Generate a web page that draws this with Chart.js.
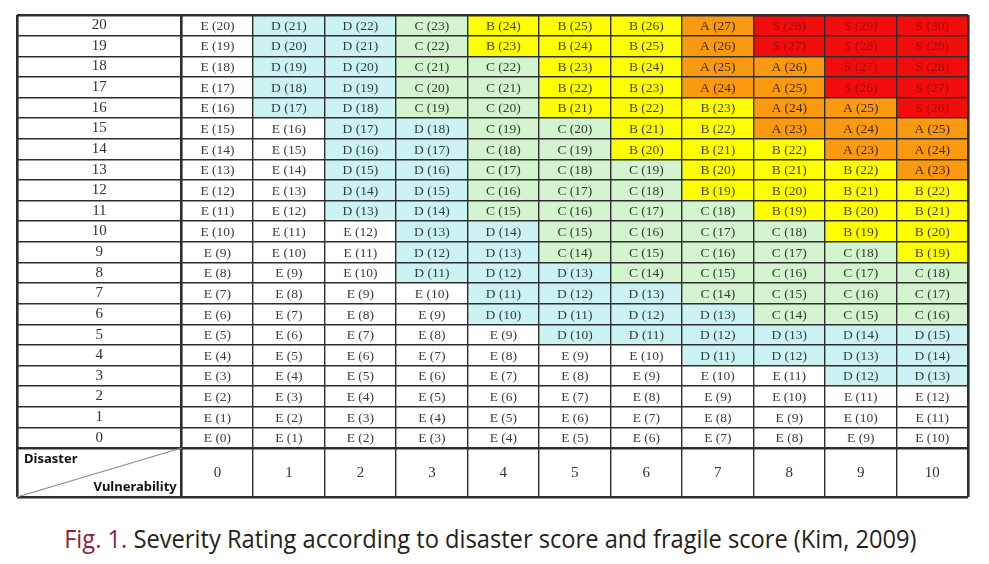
<!DOCTYPE html>
<html>
<head>
<meta charset="utf-8">
<script src="https://cdn.jsdelivr.net/npm/chart.js@4.4.1/dist/chart.umd.min.js"></script>
<style>
    body { margin: 0; background: #fff; width: 989px; height: 564px; overflow: hidden; position: relative; }
    #wrap { position: absolute; left: 0; top: 0; width: 989px; height: 505px; }
    #caption { position: absolute; left: 0; top: 520px; width: 980px; text-align: center; white-space: nowrap;
               font-family: 'Open Sans', sans-serif; font-size: 26px; color: #231f20; }
    #caption .inner { display: inline-block; transform: scaleX(0.91); transform-origin: center; }
    #caption .fig { color: #8e1f43; }
</style>
</head>
<body>
<div id="wrap"><canvas id="severityChart"></canvas></div>
<div id="caption"><span class="inner"><span class="fig">Fig. 1.</span> Severity Rating according to disaster score and fragile score (Kim, 2009)</span></div>

<script>
// Disaster score = rows (0 at the bottom), vulnerability score = columns
const disasterScores = [0, 1, 2, 3, 4, 5, 6, 7, 8, 9, 10, 11, 12, 13, 14, 15, 16, 17, 18, 19, 20];
const vulnerabilityScores = [0, 1, 2, 3, 4, 5, 6, 7, 8, 9, 10];

// Grade letter of each cell, one string per disaster score
const gradeRows = [
    'EEEEEEEEEEE', // 0
    'EEEEEEEEEEE', // 1
    'EEEEEEEEEEE', // 2
    'EEEEEEEEEDD', // 3
    'EEEEEEEDDDD', // 4
    'EEEEEDDDDDD', // 5
    'EEEEDDDDCCC', // 6
    'EEEEDDDCCCC', // 7
    'EEEDDDCCCCC', // 8
    'EEEDDCCCCCB', // 9
    'EEEDDCCCCBB', // 10
    'EEDDCCCCBBB', // 11
    'EEDDCCCBBBB', // 12
    'EEDDCCCBBBA', // 13
    'EEDDCCBBBAA', // 14
    'EEDDCCBBAAA', // 15
    'EDDCCBBBAAS', // 16
    'EDDCCBBAASS', // 17
    'EDDCCBBAASS', // 18
    'EDDCBBBASSS', // 19
    'EDDCBBBASSS'  // 20
];

// Score shown in brackets in each cell
const cellScores = [
    [0, 1, 2, 3, 4, 5, 6, 7, 8, 9, 10],
    [1, 2, 3, 4, 5, 6, 7, 8, 9, 10, 11],
    [2, 3, 4, 5, 6, 7, 8, 9, 10, 11, 12],
    [3, 4, 5, 6, 7, 8, 9, 10, 11, 12, 13],
    [4, 5, 6, 7, 8, 9, 10, 11, 12, 13, 14],
    [5, 6, 7, 8, 9, 10, 11, 12, 13, 14, 15],
    [6, 7, 8, 9, 10, 11, 12, 13, 14, 15, 16],
    [7, 8, 9, 10, 11, 12, 13, 14, 15, 16, 17],
    [8, 9, 10, 11, 12, 13, 14, 15, 16, 17, 18],
    [9, 10, 11, 12, 13, 14, 15, 16, 17, 18, 19],
    [10, 11, 12, 13, 14, 15, 16, 17, 18, 19, 20],
    [11, 12, 13, 14, 15, 16, 17, 18, 19, 20, 21],
    [12, 13, 14, 15, 16, 17, 18, 19, 20, 21, 22],
    [13, 14, 15, 16, 17, 18, 19, 20, 21, 22, 23],
    [14, 15, 16, 17, 18, 19, 20, 21, 22, 23, 24],
    [15, 16, 17, 18, 19, 20, 21, 22, 23, 24, 25],
    [16, 17, 18, 19, 20, 21, 22, 23, 24, 25, 26],
    [17, 18, 19, 20, 21, 22, 23, 24, 25, 26, 27],
    [18, 19, 20, 21, 22, 23, 24, 25, 26, 27, 28],
    [19, 20, 21, 22, 23, 24, 25, 26, 27, 28, 29],
    [20, 21, 22, 23, 24, 25, 26, 27, 28, 29, 30]
];

const gradeFill = { E: '#ffffff', D: '#cbf3f3', C: '#d3f4cf', B: '#ffff00', A: '#fb9a10', S: '#f20d0d' };
const gradeText = { E: '#3c3c3c', D: '#2f3d3d', C: '#2f3d2f', B: '#45400a', A: '#3f2606', S: '#a00a0a' };

// Extra room for the label column (left) and the header row (bottom), in cell units
const X_MIN = -2.804;
const Y_MIN = -2.878;
const X_MAX = vulnerabilityScores[vulnerabilityScores.length - 1] + 0.5;
const Y_MAX = disasterScores[disasterScores.length - 1] + 0.5;

const serif = '"Liberation Serif", "DejaVu Serif", serif';

// One dataset per disaster row, each cell a floating bar
const datasets = disasterScores.map((d, r) => ({
    label: 'Disaster ' + d,
    data: vulnerabilityScores.map(v => ({ x: v, y: [d - 0.5, d + 0.5] })),
    backgroundColor: gradeRows[r].split('').map(g => gradeFill[g]),
    borderWidth: 0,
    barPercentage: 1,
    categoryPercentage: 1,
    grouped: false
}));

// Draws the cell texts, row labels, header row and the diagonal corner cell
const tableTextPlugin = {
    id: 'tableText',
    afterDraw(chart) {
        const { ctx, chartArea } = chart;
        const xs = chart.scales.x;
        const ys = chart.scales.y;
        ctx.save();
        ctx.textAlign = 'center';
        ctx.textBaseline = 'middle';

        // cell labels
        chart.data.datasets.forEach((ds, r) => {
            const meta = chart.getDatasetMeta(r);
            meta.data.forEach((bar, c) => {
                const g = gradeRows[r][c];
                const p = bar.getCenterPoint();
                ctx.font = '13.5px ' + serif;
                ctx.fillStyle = gradeText[g];
                ctx.fillText(g + ' (' + cellScores[r][c] + ')', p.x, p.y + 1);
            });
        });

        // row labels (disaster score)
        const labelX = (xs.getPixelForValue(X_MIN) + xs.getPixelForValue(-0.5)) / 2;
        ctx.font = '15px ' + serif;
        ctx.fillStyle = '#333';
        disasterScores.forEach(d => {
            ctx.fillText(String(d), labelX, ys.getPixelForValue(d));
        });

        // header row (vulnerability score)
        const headY = (ys.getPixelForValue(Y_MIN) + ys.getPixelForValue(-0.5)) / 2;
        ctx.font = '15px ' + serif;
        vulnerabilityScores.forEach(v => {
            ctx.fillText(String(v), xs.getPixelForValue(v), headY + 1);
        });

        // corner cell
        const cornerRight = xs.getPixelForValue(-0.5);
        const cornerTop = ys.getPixelForValue(-0.5);
        ctx.strokeStyle = '#8a8a8a';
        ctx.lineWidth = 1.2;
        ctx.beginPath();
        ctx.moveTo(chartArea.left, chartArea.bottom);
        ctx.lineTo(cornerRight, cornerTop);
        ctx.stroke();

        ctx.fillStyle = '#111';
        ctx.font = 'bold 13px "Noto Sans", sans-serif';
        ctx.textAlign = 'left';
        ctx.fillText('Disaster', chartArea.left + 7, cornerTop + 11);
        ctx.textAlign = 'right';
        ctx.fillText('Vulnerability', cornerRight - 5, chartArea.bottom - 10);
        ctx.restore();
    }
};

function gridWidth(heavy) {
    return function(context) {
        const v = context.tick ? context.tick.value : null;
        return heavy.includes(v) ? 2.6 : 1.4;
    };
}

new Chart(document.getElementById('severityChart'), {
    type: 'bar',
    data: { datasets: datasets },
    options: {
        responsive: true,
        maintainAspectRatio: false,
        animation: false,
        layout: { padding: { left: 17, top: 15, right: 21, bottom: 8 } },
        plugins: {
            legend: { display: false },
            tooltip: { enabled: false }
        },
        scales: {
            x: {
                type: 'linear',
                min: X_MIN,
                max: X_MAX,
                offset: false,
                afterBuildTicks: scale => {
                    scale.ticks = [X_MIN, -0.5].concat(vulnerabilityScores.map(v => v + 0.5)).map(v => ({ value: v }));
                },
                ticks: { display: false },
                border: { display: false },
                grid: {
                    offset: false,
                    z: 1,
                    drawTicks: false,
                    color: '#2e2e2e',
                    lineWidth: gridWidth([X_MIN, -0.5, X_MAX])
                }
            },
            y: {
                type: 'linear',
                min: Y_MIN,
                max: Y_MAX,
                afterBuildTicks: scale => {
                    scale.ticks = [Y_MIN, -0.5].concat(disasterScores.map(d => d + 0.5)).map(v => ({ value: v }));
                },
                ticks: { display: false },
                border: { display: false },
                grid: {
                    offset: false,
                    z: 1,
                    drawTicks: false,
                    color: '#2e2e2e',
                    lineWidth: gridWidth([Y_MIN, -0.5, Y_MAX])
                }
            }
        }
    },
    plugins: [tableTextPlugin]
});
</script>
</body>
</html>
